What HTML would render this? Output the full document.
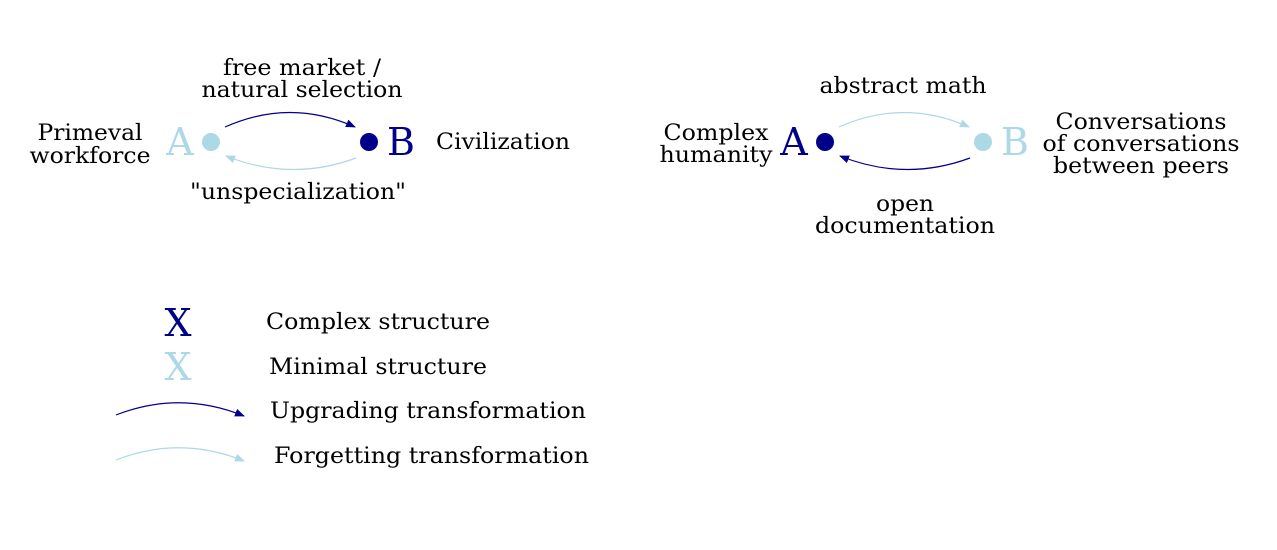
<!DOCTYPE html>
<html><head><style>body{margin:0;background:#fff}svg{display:block}</style></head><body>
<svg width="1277" height="550" xmlns="http://www.w3.org/2000/svg" font-family="DejaVu Serif, Liberation Serif, serif">
<defs>
<marker id="ad" markerWidth="10" markerHeight="8" refX="9" refY="4" orient="auto" markerUnits="userSpaceOnUse"><path d="M0,0 L10,4 L0,8 z" fill="#00008b"/></marker>
<marker id="al" markerWidth="10" markerHeight="8" refX="9" refY="4" orient="auto" markerUnits="userSpaceOnUse"><path d="M0,0 L10,4 L0,8 z" fill="#add8e6"/></marker>
</defs>
<g font-size="22" fill="#000" text-anchor="middle" lengthAdjust="spacingAndGlyphs">
<text x="90" y="140" textLength="105" lengthAdjust="spacingAndGlyphs">Primeval</text>
<text x="90" y="163" textLength="121" lengthAdjust="spacingAndGlyphs">workforce</text>
<text x="503" y="149" textLength="134" lengthAdjust="spacingAndGlyphs">Civilization</text>
<text x="302" y="75" textLength="158" lengthAdjust="spacingAndGlyphs">free market /</text>
<text x="302" y="97" textLength="201" lengthAdjust="spacingAndGlyphs">natural selection</text>
<text x="298" y="199" textLength="216" lengthAdjust="spacingAndGlyphs">"unspecialization"</text>
<text x="903" y="93" textLength="167" lengthAdjust="spacingAndGlyphs">abstract math</text>
<text x="905" y="211" textLength="58" lengthAdjust="spacingAndGlyphs">open</text>
<text x="905" y="233" textLength="180" lengthAdjust="spacingAndGlyphs">documentation</text>
<text x="716" y="140" textLength="105" lengthAdjust="spacingAndGlyphs">Complex</text>
<text x="716" y="162" textLength="113" lengthAdjust="spacingAndGlyphs">humanity</text>
<text x="1141" y="129" textLength="171" lengthAdjust="spacingAndGlyphs">Conversations</text>
<text x="1141" y="151" textLength="197" lengthAdjust="spacingAndGlyphs">of conversations</text>
<text x="1141" y="173" textLength="176" lengthAdjust="spacingAndGlyphs">between peers</text>
</g>
<g font-size="22" fill="#000">
<text x="266" y="329" textLength="224" lengthAdjust="spacingAndGlyphs">Complex structure</text>
<text x="269" y="374" textLength="218" lengthAdjust="spacingAndGlyphs">Minimal structure</text>
<text x="270" y="418" textLength="316" lengthAdjust="spacingAndGlyphs">Upgrading transformation</text>
<text x="274" y="463" textLength="315" lengthAdjust="spacingAndGlyphs">Forgetting transformation</text>
</g>
<g font-size="38" text-anchor="middle">
<text x="180" y="155" fill="#add8e6">A</text>
<text x="401" y="155" fill="#00008b">B</text>
<text x="794" y="155" fill="#00008b">A</text>
<text x="1015" y="155" fill="#add8e6">B</text>
<text x="178" y="336" fill="#00008b">X</text>
<text x="178" y="380" fill="#add8e6">X</text>
</g>
<circle cx="211" cy="142" r="9" fill="#add8e6"/>
<circle cx="369" cy="142" r="9" fill="#00008b"/>
<circle cx="825" cy="142" r="9" fill="#00008b"/>
<circle cx="983" cy="142" r="9" fill="#add8e6"/>
<g fill="none" stroke-width="1.2">
<path d="M225,127 Q290,98 355,127" stroke="#00008b" marker-end="url(#ad)"/>
<path d="M356,158 Q291,182 226,156" stroke="#add8e6" marker-end="url(#al)"/>
<path d="M839,127 Q904,98 969,127" stroke="#add8e6" marker-end="url(#al)"/>
<path d="M970,158 Q905,182 840,156" stroke="#00008b" marker-end="url(#ad)"/>
<path d="M116,415 Q180,390 244,416" stroke="#00008b" marker-end="url(#ad)"/>
<path d="M116,460 Q180,435 244,461" stroke="#add8e6" marker-end="url(#al)"/>
</g>
</svg>
</body></html>
